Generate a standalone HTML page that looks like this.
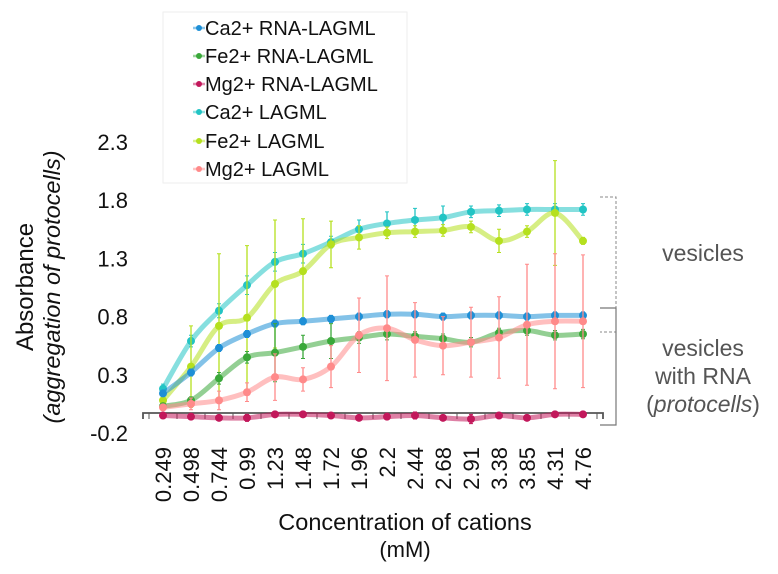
<!DOCTYPE html>
<html><head><meta charset="utf-8"><style>
html,body{margin:0;padding:0;background:#fff;}
svg{display:block;font-family:"Liberation Sans",Arial,sans-serif;}
</style></head><body>
<svg id="chart" width="778" height="574" viewBox="0 0 778 574">
<g id="plot"></g>
<g>
<text transform="translate(33,287) rotate(-90)" text-anchor="middle" font-size="24" fill="#111">Absorbance</text>
<text transform="translate(60,287) rotate(-90)" text-anchor="middle" font-size="23.5" fill="#111" font-style="italic">(aggregation of protocells)</text>
</g>
<g>
<text x="405" y="530" text-anchor="middle" font-size="23.5" fill="#111">Concentration of cations</text>
<text x="405" y="557" text-anchor="middle" font-size="22" fill="#111">(mM)</text>
</g>
<g>
<path d="M600,197 H616 V332 H600" fill="none" stroke="#888" stroke-width="1" stroke-dasharray="3,2"/>
<path d="M600,308 H616 V425 H600" fill="none" stroke="#777" stroke-width="1.2"/>
</g>
<text x="703" y="261" text-anchor="middle" font-size="23" fill="#555">vesicles</text>
<g font-size="23" fill="#555" text-anchor="middle">
<text x="703" y="356">vesicles</text>
<text x="703" y="384">with RNA</text>
<text x="703" y="412">(<tspan font-style="italic">protocells</tspan>)</text>
</g>
<g>
<rect x="163" y="12" width="244" height="171" fill="#fff" stroke="#eee"/>
<g id="legend-items"></g>
</g>
</svg>
<script>
const categories=["0.249","0.498","0.744","0.99","1.23","1.48","1.72","1.96","2.2","2.44","2.68","2.91","3.38","3.85","4.31","4.76"];
const yTicks=[-0.2,0.3,0.8,1.3,1.8,2.3];
const seriesNames=["Ca2+ RNA-LAGML","Fe2+ RNA-LAGML","Mg2+ RNA-LAGML","Ca2+ LAGML","Fe2+ LAGML","Mg2+ LAGML"];
const seriesColors=["#1e8fd6","#3aa83a","#c2185b","#22c4c4","#b5e01e","#ff8a8a"];
const caRna=[0.14,0.32,0.53,0.65,0.74,0.76,0.78,0.80,0.82,0.82,0.80,0.81,0.81,0.80,0.81,0.81];
const feRna=[0.03,0.08,0.27,0.45,0.49,0.54,0.59,0.62,0.65,0.63,0.61,0.58,0.66,0.68,0.64,0.65];
const mgRna=[-0.05,-0.06,-0.07,-0.07,-0.04,-0.04,-0.05,-0.07,-0.06,-0.05,-0.07,-0.08,-0.05,-0.07,-0.04,-0.04];
const caLag=[0.18,0.59,0.85,1.07,1.27,1.34,1.44,1.55,1.60,1.63,1.65,1.70,1.71,1.72,1.72,1.72];
const feLag=[0.08,0.37,0.72,0.79,1.08,1.19,1.42,1.48,1.52,1.53,1.54,1.57,1.45,1.53,1.69,1.45];
const mgLag=[0.02,0.05,0.08,0.15,0.28,0.26,0.37,0.64,0.70,0.60,0.55,0.58,0.62,0.73,0.76,0.76];
const caRnaErr=[0.02,0.03,0.03,0.03,0.03,0.03,0.03,0.03,0.03,0.03,0.03,0.03,0.03,0.03,0.03,0.03];
const feRnaErr=[0.02,0.03,0.05,0.05,0.25,0.1,0.15,0.05,0.05,0.04,0.04,0.04,0.04,0.04,0.04,0.04];
const mgRnaErr=[0.02,0.02,0.02,0.03,0.02,0.02,0.02,0.02,0.02,0.03,0.02,0.04,0.02,0.02,0.02,0.02];
const caLagErr=[0.04,0.05,0.06,0.08,0.08,0.08,0.05,0.08,0.1,0.1,0.1,0.05,0.05,0.05,0.05,0.05];
const feLagErr=[0.03,0.35,0.62,0.62,0.55,0.45,0.2,0.1,0.05,0.05,0.05,0.05,0.1,0.05,0.45,0.03];
const mgLagErr=[0.02,0.05,0.08,0.08,0.2,0.1,0.18,0.32,0.45,0.32,0.25,0.3,0.35,0.52,0.58,0.57];
const allSeries=[caLag,feLag,caRna,feRna,mgLag,mgRna];
const allErr=[caLagErr,feLagErr,caRnaErr,feRnaErr,mgLagErr,mgRnaErr];
const allIdx=[3,4,0,1,5,2];

const NS="http://www.w3.org/2000/svg";
const X0=163,X1=583,Y0p=409.7,PXU=116.4,AXIS_Y=413;
function xScale(i){return X0+i*(X1-X0)/(categories.length-1);}
function yScale(v){return Y0p-v*PXU;}
function mk(tag,attrs,parent){const e=document.createElementNS(NS,tag);for(const k in attrs)e.setAttribute(k,attrs[k]);parent.appendChild(e);return e;}
const plot=document.getElementById('plot');
const chart=document.getElementById('chart');

yTicks.forEach(t=>{
  const tx=mk('text',{x:128,y:yScale(t)+8,'text-anchor':'end','font-size':22,fill:'#111'},chart);
  tx.textContent=t.toFixed(1);
  
  
});
const step=(X1-X0)/(categories.length-1);
const xl=X0-step/2-6, xr=X1+step/2+6;
const axis=mk('path',{d:`M${xl},${AXIS_Y+6} V${AXIS_Y} H${xr} V${AXIS_Y+6}`,fill:'none',stroke:'#555','stroke-width':1.8},plot);


for(let i=0;i<=categories.length;i++){
  const xx=X0-step/2+i*step;
  const tk=mk('line',{x1:xx,x2:xx,y1:AXIS_Y,y2:AXIS_Y+6,stroke:'#555','stroke-width':1},plot);
  
  
}
categories.forEach((c,i)=>{
  const tx=mk('text',{transform:`translate(${xScale(i)+8},447) rotate(-90)`,'text-anchor':'end','font-size':22,fill:'#111'},chart);
  tx.textContent=c;
  
  
});
function smoothPath(pts){
  let d=`M${pts[0][0]},${pts[0][1]}`;
  for(let i=0;i<pts.length-1;i++){
    const p0=pts[i-1]||pts[i],p1=pts[i],p2=pts[i+1],p3=pts[i+2]||p2;
    const c1=[p1[0]+(p2[0]-p0[0])/6,p1[1]+(p2[1]-p0[1])/6];
    const c2=[p2[0]-(p3[0]-p1[0])/6,p2[1]-(p3[1]-p1[1])/6];
    d+=` C${c1[0]},${c1[1]} ${c2[0]},${c2[1]} ${p2[0]},${p2[1]}`;
  }
  return d;
}
allSeries.forEach((vals,s)=>{
  const col=seriesColors[allIdx[s]];
  const g=mk('g',{},plot);
  
  
  const pts=vals.map((v,i)=>[xScale(i),yScale(v)]);
  const ln=mk('path',{d:smoothPath(pts),fill:'none',stroke:col,'stroke-width':5,'stroke-opacity':0.55,'stroke-linecap':'round'},g);
  
  
  vals.forEach((v,i)=>{
    const e=allErr[s][i];
    const eb=mk('line',{x1:xScale(i),x2:xScale(i),y1:yScale(v+e),y2:yScale(v-e),stroke:col,'stroke-width':1.3},g);
    
    
    const cp=mk('path',{d:`M${xScale(i)-2},${yScale(v+e)} h4 M${xScale(i)-2},${yScale(v-e)} h4`,stroke:col,'stroke-width':1},g);
    
    
    const pt=mk('circle',{cx:xScale(i),cy:yScale(v),r:4,fill:col},g);
    
    
  });
});
const li=document.getElementById('legend-items');
const legY=[28,56,84,112,141,169];
seriesNames.forEach((n,i)=>{
  const g=mk('g',{},li);
  
  
  mk('line',{x1:193,x2:205,y1:legY[i],y2:legY[i],stroke:seriesColors[i],'stroke-width':2.5,'stroke-opacity':0.5},g);
  mk('circle',{cx:199,cy:legY[i],r:3,fill:seriesColors[i]},g);
  const t=mk('text',{x:205,y:legY[i]+7,'font-size':20,fill:'#111'},g);
  t.textContent=n;
});
</script>
</body></html>
